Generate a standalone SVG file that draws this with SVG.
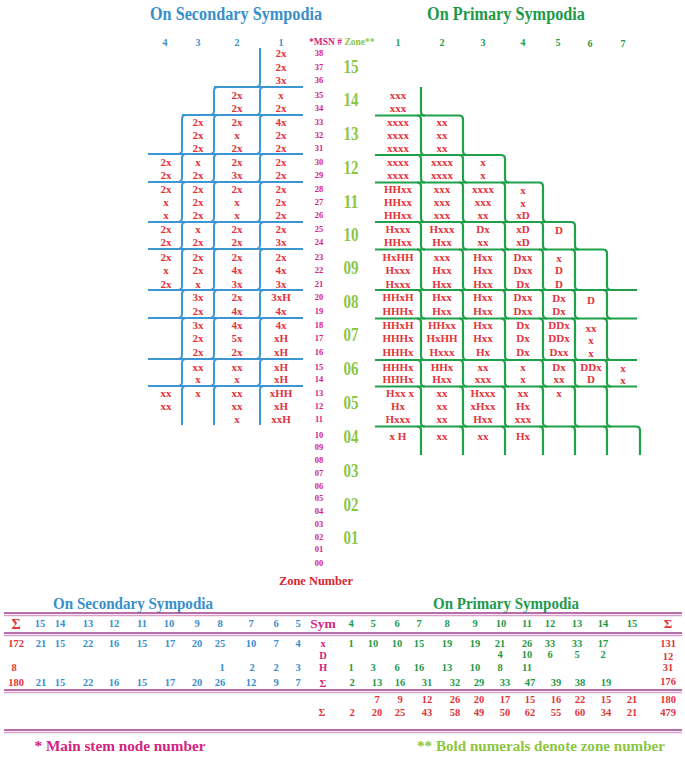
<svg xmlns="http://www.w3.org/2000/svg" width="685" height="760" viewBox="0 0 685 760">
<style>
text{font-family:"Liberation Serif","Times New Roman",serif;font-weight:bold;text-anchor:middle}
.c{font-size:11px;fill:#e2343b}
.m{font-size:8.5px;fill:#d4237e}
.z{font-size:19px;fill:#8dc63f}
.hb{font-size:10px;fill:#3a8fca}
.hg{font-size:10px;fill:#1f9a4a}
.tb{fill:#3a8fca}
.tg{fill:#1f9a4a}
.nb{font-size:10.5px;fill:#3a8fca}
.ng{font-size:10.5px;fill:#1f9a4a}
.nr{font-size:10.5px;fill:#e2343b}
.nm{font-size:10.5px;fill:#d4237e}
.bl{stroke:#3b96d2;stroke-width:2;fill:none}
.gl{stroke:#1fa04a;stroke-width:2.2;fill:none}
.r1{stroke:#9c3f8e;stroke-width:1.6}
.r2{stroke:#d9a3cb;stroke-width:1.4}
</style>

<g id="titles">
<text x="236" y="20" font-size="18" textLength="172" lengthAdjust="spacingAndGlyphs" class="tb">On Secondary Sympodia</text>
<text x="506" y="20" font-size="18" textLength="158" lengthAdjust="spacingAndGlyphs" class="tg">On Primary Sympodia</text>
</g>

<g id="column-headers">
<text class="hb" x="165" y="46">4</text>
<text class="hb" x="198" y="46">3</text>
<text class="hb" x="237" y="46">2</text>
<text class="hb" x="281" y="46">1</text>
<text x="309" y="45" font-size="9.5" style="text-anchor:start"><tspan fill="#d4237e">*MSN # </tspan><tspan fill="#8dc63f">Zone**</tspan></text>
<text class="hg" x="398" y="46">1</text>
<text class="hg" x="442" y="46">2</text>
<text class="hg" x="483" y="46">3</text>
<text class="hg" x="523" y="46">4</text>
<text class="hg" x="558" y="46">5</text>
<text class="hg" x="590" y="47">6</text>
<text class="hg" x="623" y="47">7</text>
</g>

<g id="connectors">
<g id="secondary-lines" class="bl">
<path d="M214,87H303M182,115H303M148,154H303M148,182H303M148,222H303M148,249H303M148,290H303M148,318H303M148,359H303M148,386H303"/>
<path d="M260,48V83q0,4 -4,4M264,87q-4,0 -4,4V111q0,4 -4,4M264,115q-4,0 -4,4V150q0,4 -4,4M264,154q-4,0 -4,4V178q0,4 -4,4M264,182q-4,0 -4,4V218q0,4 -4,4M264,222q-4,0 -4,4V245q0,4 -4,4M264,249q-4,0 -4,4V286q0,4 -4,4M264,290q-4,0 -4,4V314q0,4 -4,4M264,318q-4,0 -4,4V355q0,4 -4,4M264,359q-4,0 -4,4V382q0,4 -4,4M264,386q-4,0 -4,4V425"/>
<path d="M218,87q-4,0 -4,4V111q0,4 -4,4M218,115q-4,0 -4,4V150q0,4 -4,4M218,154q-4,0 -4,4V178q0,4 -4,4M218,182q-4,0 -4,4V218q0,4 -4,4M218,222q-4,0 -4,4V245q0,4 -4,4M218,249q-4,0 -4,4V286q0,4 -4,4M218,290q-4,0 -4,4V314q0,4 -4,4M218,318q-4,0 -4,4V355q0,4 -4,4M218,359q-4,0 -4,4V382q0,4 -4,4M218,386q-4,0 -4,4V425"/>
<path d="M186,115q-4,0 -4,4V150q0,4 -4,4M186,154q-4,0 -4,4V178q0,4 -4,4M186,182q-4,0 -4,4V218q0,4 -4,4M186,222q-4,0 -4,4V245q0,4 -4,4M186,249q-4,0 -4,4V286q0,4 -4,4M186,290q-4,0 -4,4V314q0,4 -4,4M186,318q-4,0 -4,4V355q0,4 -4,4M186,359q-4,0 -4,4V382q0,4 -4,4M186,386q-4,0 -4,4V425"/>
</g>
<g id="primary-lines" class="gl">
<path d="M375,115.5H459M375,155H501M375,182.5H539M375,222H571M375,249.5H603M375,290H637M375,318.5H637M375,360H637M375,386.5H637M375,426.5H636"/>
<path d="M421,87V111.5q0,4 4,4M417,115.5q4,0 4,4V151q0,4 4,4M417,155q4,0 4,4V178.5q0,4 4,4M417,182.5q4,0 4,4V218q0,4 4,4M417,222q4,0 4,4V245.5q0,4 4,4M417,249.5q4,0 4,4V286q0,4 4,4M417,290q4,0 4,4V314.5q0,4 4,4M417,318.5q4,0 4,4V356q0,4 4,4M417,360q4,0 4,4V382.5q0,4 4,4M417,386.5q4,0 4,4V422.5q0,4 4,4M417,426.5q4,0 4,4V455"/>
<path d="M459,115.5q4,0 4,4V151q0,4 4,4M459,155q4,0 4,4V178.5q0,4 4,4M459,182.5q4,0 4,4V218q0,4 4,4M459,222q4,0 4,4V245.5q0,4 4,4M459,249.5q4,0 4,4V286q0,4 4,4M459,290q4,0 4,4V314.5q0,4 4,4M459,318.5q4,0 4,4V356q0,4 4,4M459,360q4,0 4,4V382.5q0,4 4,4M459,386.5q4,0 4,4V422.5q0,4 4,4M459,426.5q4,0 4,4V455"/>
<path d="M501,155q4,0 4,4V178.5q0,4 4,4M501,182.5q4,0 4,4V218q0,4 4,4M501,222q4,0 4,4V245.5q0,4 4,4M501,249.5q4,0 4,4V286q0,4 4,4M501,290q4,0 4,4V314.5q0,4 4,4M501,318.5q4,0 4,4V356q0,4 4,4M501,360q4,0 4,4V382.5q0,4 4,4M501,386.5q4,0 4,4V422.5q0,4 4,4M501,426.5q4,0 4,4V455"/>
<path d="M539,182.5q4,0 4,4V218q0,4 4,4M539,222q4,0 4,4V245.5q0,4 4,4M539,249.5q4,0 4,4V286q0,4 4,4M539,290q4,0 4,4V314.5q0,4 4,4M539,318.5q4,0 4,4V356q0,4 4,4M539,360q4,0 4,4V382.5q0,4 4,4M539,386.5q4,0 4,4V422.5q0,4 4,4M539,426.5q4,0 4,4V455"/>
<path d="M571,222q4,0 4,4V245.5q0,4 4,4M571,249.5q4,0 4,4V286q0,4 4,4M571,290q4,0 4,4V314.5q0,4 4,4M571,318.5q4,0 4,4V356q0,4 4,4M571,360q4,0 4,4V382.5q0,4 4,4M571,386.5q4,0 4,4V422.5q0,4 4,4M571,426.5q4,0 4,4V455"/>
<path d="M603,249.5q4,0 4,4V286q0,4 4,4M603,290q4,0 4,4V314.5q0,4 4,4M603,318.5q4,0 4,4V356q0,4 4,4M603,360q4,0 4,4V382.5q0,4 4,4M603,386.5q4,0 4,4V422.5q0,4 4,4M603,426.5q4,0 4,4V455"/>
<path d="M636,426.5q4,0 4,4V455"/>
</g>
</g>

<g id="secondary-cells" class="c">
<text x="281" y="57">2x</text>
<text x="281" y="71">2x</text>
<text x="281" y="84">3x</text>
<text x="237" y="99">2x</text><text x="281" y="99">x</text>
<text x="237" y="112">2x</text><text x="281" y="112">2x</text>
<text x="198" y="126">2x</text><text x="237" y="126">2x</text><text x="281" y="126">4x</text>
<text x="198" y="139">2x</text><text x="237" y="139">x</text><text x="281" y="139">2x</text>
<text x="198" y="152">2x</text><text x="237" y="152">2x</text><text x="281" y="152">2x</text>
<text x="166" y="166">2x</text><text x="198" y="166">x</text><text x="237" y="166">2x</text><text x="281" y="166">2x</text>
<text x="166" y="179">2x</text><text x="198" y="179">2x</text><text x="237" y="179">3x</text><text x="281" y="179">2x</text>
<text x="166" y="193">2x</text><text x="198" y="193">2x</text><text x="237" y="193">2x</text><text x="281" y="193">2x</text>
<text x="166" y="206">x</text><text x="198" y="206">2x</text><text x="237" y="206">x</text><text x="281" y="206">2x</text>
<text x="166" y="219">x</text><text x="198" y="219">2x</text><text x="237" y="219">x</text><text x="281" y="219">2x</text>
<text x="166" y="233">2x</text><text x="198" y="233">x</text><text x="237" y="233">2x</text><text x="281" y="233">2x</text>
<text x="166" y="246">2x</text><text x="198" y="246">2x</text><text x="237" y="246">2x</text><text x="281" y="246">3x</text>
<text x="166" y="261">2x</text><text x="198" y="261">2x</text><text x="237" y="261">2x</text><text x="281" y="261">2x</text>
<text x="166" y="274">x</text><text x="198" y="274">2x</text><text x="237" y="274">4x</text><text x="281" y="274">4x</text>
<text x="166" y="288">2x</text><text x="198" y="288">x</text><text x="237" y="288">3x</text><text x="281" y="288">3x</text>
<text x="198" y="301">3x</text><text x="237" y="301">2x</text><text x="281" y="301">3xH</text>
<text x="198" y="315">2x</text><text x="237" y="315">4x</text><text x="281" y="315">4x</text>
<text x="198" y="329">3x</text><text x="237" y="329">4x</text><text x="281" y="329">4x</text>
<text x="198" y="342">2x</text><text x="237" y="342">5x</text><text x="281" y="342">xH</text>
<text x="198" y="356">2x</text><text x="237" y="356">2x</text><text x="281" y="356">xH</text>
<text x="198" y="371">xx</text><text x="237" y="371">xx</text><text x="281" y="371">xH</text>
<text x="198" y="383">x</text><text x="237" y="383">x</text><text x="281" y="383">xH</text>
<text x="166" y="397">xx</text><text x="198" y="397">x</text><text x="237" y="397">xx</text><text x="281" y="397">xHH</text>
<text x="166" y="410">xx</text><text x="237" y="410">xx</text><text x="281" y="410">xH</text>
<text x="237" y="423">x</text><text x="281" y="423">xxH</text>
</g>

<g id="msn-column" class="m">
<text x="319" y="56">38</text><text x="319" y="70">37</text><text x="319" y="83">36</text>
<text x="319" y="98">35</text><text x="319" y="111">34</text><text x="319" y="125">33</text>
<text x="319" y="138">32</text><text x="319" y="151">31</text><text x="319" y="165">30</text>
<text x="319" y="178">29</text><text x="319" y="192">28</text><text x="319" y="205">27</text>
<text x="319" y="218">26</text><text x="319" y="232">25</text><text x="319" y="245">24</text>
<text x="319" y="260">23</text><text x="319" y="273">22</text><text x="319" y="287">21</text>
<text x="319" y="300">20</text><text x="319" y="314">19</text><text x="319" y="328">18</text>
<text x="319" y="341">17</text><text x="319" y="355">16</text><text x="319" y="370">15</text>
<text x="319" y="382">14</text><text x="319" y="396">13</text><text x="319" y="409">12</text>
<text x="319" y="422">11</text><text x="319" y="438">10</text><text x="319" y="450">09</text>
<text x="319" y="463">08</text><text x="319" y="476">07</text><text x="319" y="489">06</text>
<text x="319" y="501">05</text><text x="319" y="514">04</text><text x="319" y="527">03</text>
<text x="319" y="540">02</text><text x="319" y="552">01</text><text x="319" y="566">00</text>
</g>

<g id="zone-numbers" class="z">
<text x="351" y="73" textLength="15" lengthAdjust="spacingAndGlyphs">15</text>
<text x="351" y="106" textLength="15" lengthAdjust="spacingAndGlyphs">14</text>
<text x="351" y="140" textLength="15" lengthAdjust="spacingAndGlyphs">13</text>
<text x="351" y="174" textLength="15" lengthAdjust="spacingAndGlyphs">12</text>
<text x="351" y="208" textLength="15" lengthAdjust="spacingAndGlyphs">11</text>
<text x="351" y="241" textLength="15" lengthAdjust="spacingAndGlyphs">10</text>
<text x="351" y="274" textLength="15" lengthAdjust="spacingAndGlyphs">09</text>
<text x="351" y="308" textLength="15" lengthAdjust="spacingAndGlyphs">08</text>
<text x="351" y="341" textLength="15" lengthAdjust="spacingAndGlyphs">07</text>
<text x="351" y="375" textLength="15" lengthAdjust="spacingAndGlyphs">06</text>
<text x="351" y="409" textLength="15" lengthAdjust="spacingAndGlyphs">05</text>
<text x="351" y="443" textLength="15" lengthAdjust="spacingAndGlyphs">04</text>
<text x="351" y="477" textLength="15" lengthAdjust="spacingAndGlyphs">03</text>
<text x="351" y="511" textLength="15" lengthAdjust="spacingAndGlyphs">02</text>
<text x="351" y="544" textLength="15" lengthAdjust="spacingAndGlyphs">01</text>
</g>

<g id="zone-number-label">
<text x="316" y="585" font-size="13" fill="#d9262e" textLength="74" lengthAdjust="spacingAndGlyphs">Zone  Number</text>
</g>

<g id="primary-cells" class="c">
<text x="398" y="99">xxx</text>
<text x="398" y="112">xxx</text>
<text x="398" y="126">xxxx</text><text x="442" y="126">xx</text>
<text x="398" y="139">xxxx</text><text x="442" y="139">xx</text>
<text x="398" y="152">xxxx</text><text x="442" y="152">xx</text>
<text x="398" y="166">xxxx</text><text x="442" y="166">xxxx</text><text x="483" y="166">x</text>
<text x="398" y="179">xxxx</text><text x="442" y="179">xxxx</text><text x="483" y="179">x</text>
<text x="398" y="193">HHxx</text><text x="442" y="193">xxx</text><text x="483" y="193">xxxx</text><text x="523" y="194">x</text>
<text x="398" y="206">HHxx</text><text x="442" y="206">xxx</text><text x="483" y="206">xxx</text><text x="523" y="207">x</text>
<text x="398" y="219">HHxx</text><text x="442" y="219">xxx</text><text x="483" y="219">xx</text><text x="523" y="219">xD</text>
<text x="398" y="233">Hxxx</text><text x="442" y="233">Hxxx</text><text x="483" y="233">Dx</text><text x="523" y="233">xD</text><text x="559" y="234">D</text>
<text x="398" y="246">HHxx</text><text x="442" y="246">Hxx</text><text x="483" y="246">xx</text><text x="523" y="246">xD</text>
<text x="398" y="261">HxHH</text><text x="442" y="261">xxx</text><text x="483" y="261">Hxx</text><text x="523" y="261">Dxx</text><text x="559" y="262">x</text>
<text x="398" y="274">Hxxx</text><text x="442" y="274">Hxx</text><text x="483" y="274">Hxx</text><text x="523" y="274">Dxx</text><text x="559" y="274">D</text>
<text x="398" y="288">Hxxx</text><text x="442" y="288">Hxx</text><text x="483" y="288">Hxx</text><text x="523" y="288">Dx</text><text x="559" y="288">D</text>
<text x="398" y="301">HHxH</text><text x="442" y="301">Hxx</text><text x="483" y="301">Hxx</text><text x="523" y="301">Dxx</text><text x="559" y="302">Dx</text><text x="591" y="304">D</text>
<text x="398" y="315">HHHx</text><text x="442" y="315">Hxx</text><text x="483" y="315">Hxx</text><text x="523" y="315">Dxx</text><text x="559" y="315">Dx</text>
<text x="398" y="329">HHxH</text><text x="442" y="329">HHxx</text><text x="483" y="329">Hxx</text><text x="523" y="329">Dx</text><text x="559" y="329">DDx</text><text x="591" y="332">xx</text>
<text x="398" y="342">HHHx</text><text x="442" y="342">HxHH</text><text x="483" y="342">Hxx</text><text x="523" y="342">Dx</text><text x="559" y="342">DDx</text><text x="591" y="344">x</text>
<text x="398" y="356">HHHx</text><text x="442" y="356">Hxxx</text><text x="483" y="356">Hx</text><text x="523" y="356">Dx</text><text x="559" y="356">Dxx</text><text x="591" y="357">x</text>
<text x="398" y="371">HHHx</text><text x="442" y="371">HHx</text><text x="483" y="371">xx</text><text x="523" y="371">x</text><text x="559" y="371">Dx</text><text x="591" y="371">DDx</text><text x="623" y="372">x</text>
<text x="398" y="383">HHHx</text><text x="442" y="383">Hxx</text><text x="483" y="383">xxx</text><text x="523" y="383">x</text><text x="559" y="383">xx</text><text x="591" y="383">D</text><text x="623" y="384">x</text>
<text x="400" y="397">Hxx x</text><text x="442" y="397">xx</text><text x="483" y="397">Hxxx</text><text x="523" y="397">xx</text><text x="559" y="397">x</text>
<text x="398" y="410">Hx</text><text x="442" y="410">xx</text><text x="483" y="410">xHxx</text><text x="523" y="410">Hx</text>
<text x="398" y="423">Hxxx</text><text x="442" y="423">xx</text><text x="483" y="423">Hxx</text><text x="523" y="423">xxx</text>
<text x="398" y="440">x H</text><text x="442" y="440">xx</text><text x="483" y="440">xx</text><text x="523" y="440">Hx</text>
</g>

<g id="summary-table">
<text x="133" y="609" font-size="17" textLength="160" lengthAdjust="spacingAndGlyphs" class="tb">On Secondary Sympodia</text>
<text x="506" y="609" font-size="17" textLength="146" lengthAdjust="spacingAndGlyphs" class="tg">On Primary Sympodia</text>
<g id="rules">
<line class="r1" x1="4" y1="613" x2="682" y2="613"/><line class="r2" x1="4" y1="615.5" x2="682" y2="615.5"/>
<line class="r1" x1="4" y1="633" x2="682" y2="633"/><line class="r2" x1="4" y1="635.5" x2="682" y2="635.5"/>
<line class="r1" x1="4" y1="690" x2="682" y2="690"/><line class="r2" x1="4" y1="692.5" x2="682" y2="692.5"/>
<line class="r1" x1="4" y1="730" x2="682" y2="730"/><line class="r2" x1="4" y1="732.5" x2="682" y2="732.5"/>
</g>
<g id="header-row">
<text x="16" y="629" font-size="14" fill="#e2343b">Σ</text>
<text class="nb" x="40" y="627">15</text><text class="nb" x="60" y="627">14</text><text class="nb" x="88" y="627">13</text><text class="nb" x="114" y="627">12</text><text class="nb" x="142" y="627">11</text><text class="nb" x="169" y="627">10</text><text class="nb" x="197" y="627">9</text><text class="nb" x="220" y="627">8</text><text class="nb" x="251" y="627">7</text><text class="nb" x="276" y="627">6</text><text class="nb" x="298" y="627">5</text>
<text x="323" y="628" font-size="13.5" fill="#d4237e">Sym</text>
<text class="ng" x="351" y="627">4</text><text class="ng" x="373" y="627">5</text><text class="ng" x="397" y="627">6</text><text class="ng" x="419" y="627">7</text><text class="ng" x="447" y="627">8</text><text class="ng" x="475" y="627">9</text><text class="ng" x="501" y="627">10</text><text class="ng" x="527" y="627">11</text><text class="ng" x="550" y="627">12</text><text class="ng" x="577" y="627">13</text><text class="ng" x="603" y="627">14</text><text class="ng" x="632" y="627">15</text>
<text x="668" y="628" font-size="13" fill="#e2343b">Σ</text>
</g>
<g id="row-x">
<text class="nr" x="16" y="647">172</text>
<text class="nb" x="41" y="647">21</text><text class="nb" x="60" y="647">15</text><text class="nb" x="88" y="647">22</text><text class="nb" x="114" y="647">16</text><text class="nb" x="142" y="647">15</text><text class="nb" x="170" y="647">17</text><text class="nb" x="197" y="647">20</text><text class="nb" x="220" y="647">25</text><text class="nb" x="251" y="647">10</text><text class="nb" x="276" y="647">7</text><text class="nb" x="298" y="647">4</text>
<text class="nm" x="323" y="647">x</text>
<text class="ng" x="351" y="647">1</text><text class="ng" x="373" y="647">10</text><text class="ng" x="397" y="647">10</text><text class="ng" x="419" y="647">15</text><text class="ng" x="447" y="647">19</text><text class="ng" x="475" y="647">19</text><text class="ng" x="500" y="647">21</text><text class="ng" x="527" y="647">26</text><text class="ng" x="550" y="647">33</text><text class="ng" x="577" y="647">33</text><text class="ng" x="603" y="647">17</text>
<text class="nr" x="668" y="647">131</text>
</g>
<g id="row-d">
<text class="nm" x="323" y="659">D</text>
<text class="ng" x="500" y="658">4</text><text class="ng" x="527" y="658">10</text><text class="ng" x="550" y="658">6</text><text class="ng" x="577" y="658">5</text><text class="ng" x="603" y="658">2</text>
<text class="nr" x="668" y="660">12</text>
</g>
<g id="row-h">
<text class="nr" x="14" y="671">8</text>
<text class="nb" x="222" y="671">1</text><text class="nb" x="252" y="671">2</text><text class="nb" x="276" y="671">2</text><text class="nb" x="298" y="671">3</text>
<text class="nm" x="323" y="671">H</text>
<text class="ng" x="351" y="671">1</text><text class="ng" x="373" y="671">3</text><text class="ng" x="397" y="671">6</text><text class="ng" x="419" y="671">16</text><text class="ng" x="447" y="671">13</text><text class="ng" x="475" y="671">10</text><text class="ng" x="500" y="671">8</text><text class="ng" x="527" y="671">11</text>
<text class="nr" x="668" y="671">31</text>
</g>
<g id="row-sum">
<text class="nr" x="16" y="686">180</text>
<text class="nb" x="41" y="686">21</text><text class="nb" x="60" y="686">15</text><text class="nb" x="88" y="686">22</text><text class="nb" x="114" y="686">16</text><text class="nb" x="142" y="686">15</text><text class="nb" x="170" y="686">17</text><text class="nb" x="197" y="686">20</text><text class="nb" x="220" y="686">26</text><text class="nb" x="251" y="686">12</text><text class="nb" x="276" y="686">9</text><text class="nb" x="298" y="686">7</text>
<text class="nm" x="323" y="687">Σ</text>
<text class="ng" x="352" y="686">2</text><text class="ng" x="377" y="686">13</text><text class="ng" x="400" y="686">16</text><text class="ng" x="427" y="686">31</text><text class="ng" x="455" y="686">32</text><text class="ng" x="479" y="686">29</text><text class="ng" x="505" y="686">33</text><text class="ng" x="530" y="686">47</text><text class="ng" x="556" y="686">39</text><text class="ng" x="580" y="686">38</text><text class="ng" x="606" y="686">19</text>
<text class="nr" x="668" y="685">176</text>
</g>
<g id="row-totals" class="nr">
<text x="377" y="703">7</text><text x="400" y="703">9</text><text x="427" y="703">12</text><text x="455" y="703">26</text><text x="479" y="703">20</text><text x="505" y="703">17</text><text x="530" y="703">15</text><text x="556" y="703">16</text><text x="580" y="703">22</text><text x="606" y="703">15</text><text x="632" y="703">21</text><text x="668" y="703">180</text>
<text x="322" y="716">Σ</text><text x="352" y="716">2</text><text x="377" y="716">20</text><text x="400" y="716">25</text><text x="427" y="716">43</text><text x="455" y="716">58</text><text x="479" y="716">49</text><text x="505" y="716">50</text><text x="530" y="716">62</text><text x="556" y="716">55</text><text x="580" y="716">60</text><text x="606" y="716">34</text><text x="632" y="716">21</text><text x="668" y="716">479</text>
</g>
</g>

<g id="footnotes">
<text x="120" y="751" font-size="15.5" fill="#d4237e" textLength="171" lengthAdjust="spacingAndGlyphs">*  Main stem node number</text>
<text x="541" y="751" font-size="15.5" fill="#8dc63f" textLength="248" lengthAdjust="spacingAndGlyphs">**  Bold numerals denote zone number</text>
</g>
</svg>
